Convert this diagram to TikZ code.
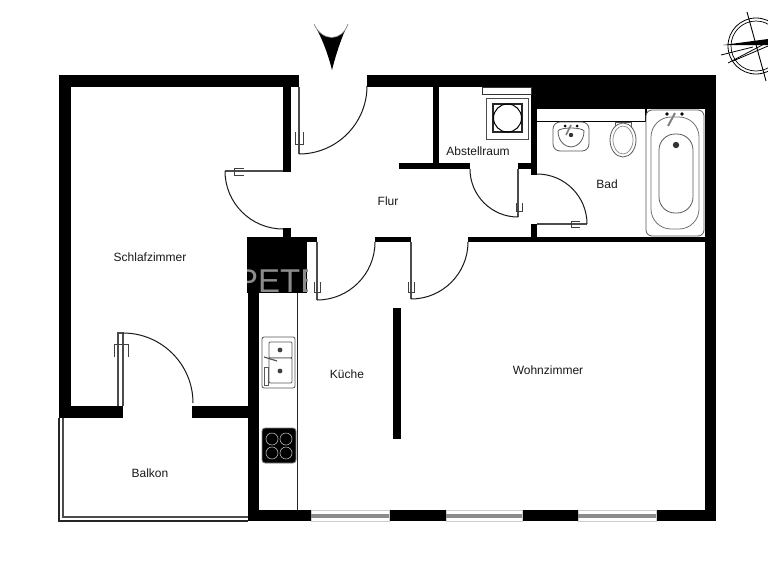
\documentclass[tikz,border=0pt]{standalone}
\usepackage{fontspec}
\setmainfont{Liberation Sans}
\tikzset{
  wall/.style={fill=black,draw=none},
  door/.style={draw=black!90,line width=1pt},
  leaf/.style={draw=black!70,line width=1.1pt},
  handle/.style={draw=black!75,line width=0.8pt},
  fixture/.style={draw=black!65,line width=0.8pt,fill=white},
  roomlabel/.style={font=\fontsize{12}{14}\selectfont,text=black!90,inner sep=0pt},
  winpane/.style={fill=white,draw=black!20,line width=0.4pt},
  winbar/.style={fill=black!45,draw=none}
}
\begin{document}
\begin{tikzpicture}[x=1pt,y=-1pt]
  \useasboundingbox[fill=white] (0,0) rectangle (768,560);
  % Outer walls
  \fill[wall] (59,75) rectangle (299,87);
  \fill[wall] (59,75) rectangle (71,418);
  \fill[wall] (367,75) rectangle (716,87);
  \fill[wall] (705,75) rectangle (716,521);
  \fill[wall] (248,510) rectangle (716,521);
  % Balcony wall and railing
  \fill[wall] (59,406) rectangle (123,418);
  \fill[wall] (192,406) rectangle (259,418);
  \draw[black!85,line width=1.1pt] (59,418) -- (59,521) -- (248,521);
  \draw[black!70,line width=1.1pt] (63,418) -- (63,517) -- (248,517);
  % Inner walls
  \fill[wall] (283,87) rectangle (291,172);
  \fill[wall] (283,228) rectangle (291,238);
  \fill[wall] (248,237) rectangle (259,521);
  \fill[wall] (247,237) rectangle (317,242);
  \fill[wall] (247,237) rectangle (307,293);
  \fill[wall] (375,237) rectangle (411,242);
  \fill[wall] (468,237) rectangle (705,242);
  \fill[wall] (433,87) rectangle (439,163);
  \fill[wall] (399,163) rectangle (470,169);
  \fill[wall] (518,163) rectangle (537,169);
  \fill[wall] (531,87) rectangle (537,175);
  \fill[wall] (531,224) rectangle (537,237);
  \fill[wall] (531,75) rectangle (716,109);
  \fill[wall] (393,308) rectangle (401,439);
  % Watermark on the black block
  \begin{scope}
    \clip (247,237) rectangle (307,293);
    \node[anchor=base west,inner sep=0pt,text=black!45,font=\fontsize{33}{33}\selectfont] (watermark) at (236,292) {PETE};
  \end{scope}
  % Windows
  \foreach \xa/\xb in {311/389,446/522,578/656} {
    \filldraw[winpane] (\xa,510) rectangle (\xb,521);
    \fill[winbar] (\xa,514) rectangle (\xb,518);
  }
  % Entrance door
  \draw[leaf] (299,87) -- (299,154);
  \draw[door] (299,154) arc[start angle=90,end angle=0,radius=68];
  \draw[handle] (295,132) -- (295,144) -- (303,144) -- (303,132) (299,132) -- (299,144);
  % Schlafzimmer door
  \draw[leaf] (283,171) -- (225,171);
  \draw[door] (225,171) arc[start angle=180,end angle=90,radius=58];
  \draw[handle] (244,168) -- (234,168) -- (234,175) -- (244,175);
  % Kitchen door
  \draw[leaf] (317,242) -- (317,300);
  \draw[door] (317,300) arc[start angle=90,end angle=0,radius=58];
  \draw[handle] (314,282) -- (314,292) -- (320,292) -- (320,282);
  % Wohnzimmer door
  \draw[leaf] (411,242) -- (411,299);
  \draw[door] (411,299) arc[start angle=90,end angle=0,radius=57];
  \draw[handle] (408,282) -- (408,292) -- (414,292) -- (414,282);
  % Abstellraum door
  \draw[leaf] (518,169) -- (518,217);
  \draw[door] (470,169) arc[start angle=180,end angle=90,radius=48];
  \draw[handle] (516,203) -- (516,211) -- (522,211) -- (522,203);
  % Bad door
  \draw[leaf] (537,224) -- (587,224);
  \draw[door] (587,224) arc[start angle=0,end angle=-90,radius=50];
  \draw[handle] (580,221) -- (571,221) -- (571,227) -- (580,227);
  % Balcony door
  \draw[leaf] (118,406) -- (118,333) -- (123,333) -- (123,406);
  \draw[door] (123,333) arc[start angle=-90,end angle=0,radius=70];
  \draw[handle] (114,357) -- (114,344) -- (128,344) -- (128,357);
  % Washing machine
  \draw[black!80,line width=0.8pt] (482,87) rectangle (531,94);
  \draw[black!70,line width=0.9pt] (486,98) rectangle (528,139);
  \draw[black!85,line width=1.2pt] (493,104) rectangle (522,132);
  \draw[black,line width=1pt] (507.5,118) circle (14);
  % Bath shelf
  \fill[white] (537,109) rectangle (645,121);
  \draw[black,line width=1.2pt] (537,121.5) -- (646,121.5) -- (646,109);
  % Washbasin
  \draw[fixture,rounded corners=7pt] (553,122) rectangle (589,151);
  \draw[fixture] (558,131) .. controls (560,127) and (582,127) .. (584,131) .. controls (584,142) and (576,147) .. (571,147) .. controls (566,147) and (558,142) .. (558,131);
  \fill (565,126) circle (1.5) (577,126) circle (1.5);
  \fill[black!80] (571,135) circle (2.2);
  \draw[black!50,line width=1.6pt] (566,135) -- (571,125);
  % Toilet
  \draw[fixture] (615,122) rectangle (631,128);
  \draw[fixture] (623,140) ellipse (13 and 17);
  \draw[black!45,line width=0.7pt] (623,140) ellipse (10 and 14);
  % Bathtub
  \draw[fixture,rounded corners=6pt] (646,110) rectangle (704,236);
  \draw[black!55,line width=0.8pt,rounded corners=20pt] (651,117) rectangle (699,229);
  \draw[black!65,line width=0.8pt,rounded corners=16pt] (659,134) rectangle (693,213);
  \fill[black!80] (676,145) circle (3.2);
  \fill (667,114) circle (1.8) (682,114) circle (1.8);
  \draw[black!50,line width=2pt] (668,126) -- (675,113);
  % Kitchen counter
  \draw[black!85,line width=0.8pt] (297,293) -- (297,510);
  % Kitchen sink
  \draw[fixture,rounded corners=2pt] (262,337) rectangle (295,388);
  \draw[fixture,rounded corners=1pt] (269,342) rectangle (292,358);
  \draw[fixture,rounded corners=1pt] (269,358) rectangle (292,383);
  \fill[black!75] (280,350) circle (2.4) (280,371) circle (2.4);
  \draw[black!65,line width=1.2pt] (264,357) -- (277,361);
  \draw[fixture] (264,367) rectangle (268,385);
  % Hob
  \filldraw[fill=black,draw=black!50,line width=0.8pt,rounded corners=3pt] (262,428) rectangle (296,463);
  \foreach \hx in {272,286} {
    \foreach \hy in {439,453} {
      \draw[black!30,line width=0.6pt] (\hx,\hy) circle (6);
    }
  }
  % Entrance arrow
  \fill[black] (314,24) .. controls (322,42) and (342,42) .. (348,24) .. controls (342,36) and (336,54) .. (332,70) .. controls (328,54) and (322,38) .. (314,24) -- cycle;
  \draw[black!45,line width=0.6pt] (314,24) .. controls (322,42) and (342,42) .. (348,24);
  % Compass
  \draw[black,line width=0.8pt] (756,46) circle (28);
  \draw[black,line width=0.7pt] (756,46) circle (25);
  \draw[black,line width=0.9pt] (747,12) -- (766,81);
  \fill[black] (723,45) -- (768,39) -- (768,45) -- cycle;
  \draw[black,line width=0.8pt] (721,55) -- (753,47);
  \draw[black,line width=0.8pt] (728,63) -- (768,42);
  \draw[black,line width=0.8pt] (733,61) -- (768,46);
  % Room labels
  \node[roomlabel] (schlafzimmer) at (150,257) {Schlafzimmer};
  \node[roomlabel] (flur) at (388,201) {Flur};
  \node[roomlabel] (abstellraum) at (478,151) {Abstellraum};
  \node[roomlabel] (bad) at (607,184) {Bad};
  \node[roomlabel] (kueche) at (347,374) {Küche};
  \node[roomlabel] (wohnzimmer) at (548,370) {Wohnzimmer};
  \node[roomlabel] (balkon) at (150,473) {Balkon};
\end{tikzpicture}
\end{document}
